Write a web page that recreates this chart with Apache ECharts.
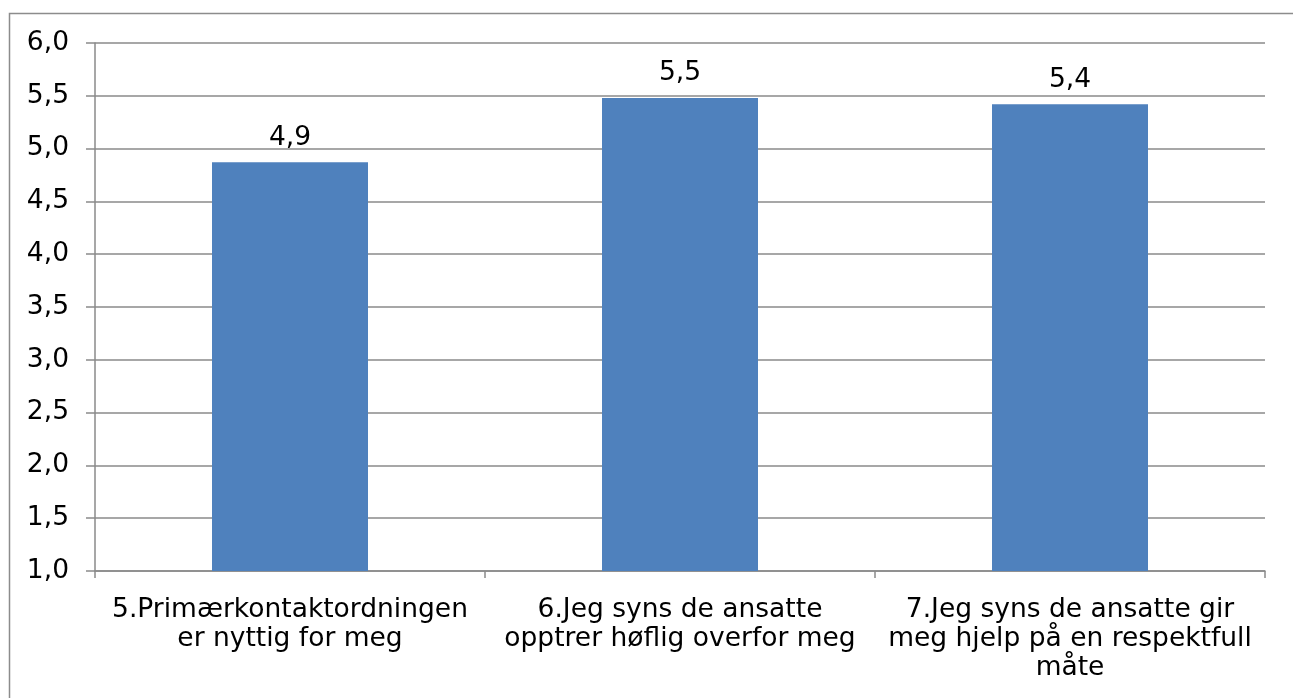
<!DOCTYPE html>
<html>
<head>
<meta charset="utf-8">
<title>Gjennomsnittsskår</title>
<style>
  html, body { margin: 0; padding: 0; background: #ffffff; }
  #chart { width: 1293px; height: 698px; }
</style>
<script src="https://cdn.jsdelivr.net/npm/echarts@6/dist/echarts.min.js"></script>
</head>
<body>
<div id="chart"></div>
<script>
// Spørsmål (kategorier) og gjennomsnittlig skår
const categories = [
  '5.Primærkontaktordningen\ner nyttig for meg',
  '6.Jeg syns de ansatte\nopptrer høflig overfor meg',
  '7.Jeg syns de ansatte gir\nmeg hjelp på en respektfull\nmåte'
];
const scores = [4.87, 5.48, 5.42];

// Verdiakse
const yMin = 1.0;
const yMax = 6.0;
const yStep = 0.5;

const fmt = v => Number(v).toFixed(1).replace('.', ',');

const FONT = '"DejaVu Sans", Verdana, sans-serif';
const FONT_SIZE = 26.5;
const GRID_COLOR = '#8a8a8a';
const BAR_COLOR = '#4f81bd';

const chart = echarts.init(document.getElementById('chart'), null, { renderer: 'canvas' });

chart.setOption({
  backgroundColor: '#ffffff',
  animation: false,
  textStyle: { fontFamily: FONT },
  graphic: [{
    type: 'rect',
    shape: { x: 9.5, y: 13.5, width: 1400, height: 800 },
    style: { fill: 'none', stroke: '#8c8c8c', lineWidth: 1.5 },
    silent: true,
    z: -1
  }],
  grid: { left: 95, right: 28, top: 43, bottom: 127, containLabel: false },
  xAxis: {
    type: 'category',
    data: categories,
    axisLine: { show: true, lineStyle: { color: GRID_COLOR, width: 1.5 } },
    axisTick: { show: true, alignWithLabel: false, length: 7, lineStyle: { color: GRID_COLOR, width: 1.5 } },
    axisLabel: {
      interval: 0,
      margin: 25,
      color: '#000000',
      fontFamily: FONT,
      fontSize: FONT_SIZE,
      lineHeight: 29,
      align: 'center'
    }
  },
  yAxis: {
    type: 'value',
    min: yMin,
    max: yMax,
    interval: yStep,
    axisLine: { show: true, lineStyle: { color: GRID_COLOR, width: 1.5 } },
    axisTick: { show: true, length: 9, lineStyle: { color: GRID_COLOR, width: 1.5 } },
    splitLine: { show: true, lineStyle: { color: GRID_COLOR, width: 1.5 } },
    axisLabel: {
      margin: 26,
      color: '#000000',
      fontFamily: FONT,
      fontSize: FONT_SIZE,
      formatter: fmt
    }
  },
  series: [{
    type: 'bar',
    data: scores,
    barWidth: '40%',
    itemStyle: { color: BAR_COLOR },
    label: {
      show: true,
      position: 'top',
      distance: 11,
      color: '#000000',
      fontFamily: FONT,
      fontSize: FONT_SIZE,
      formatter: p => fmt(p.value)
    }
  }]
});
</script>
</body>
</html>
